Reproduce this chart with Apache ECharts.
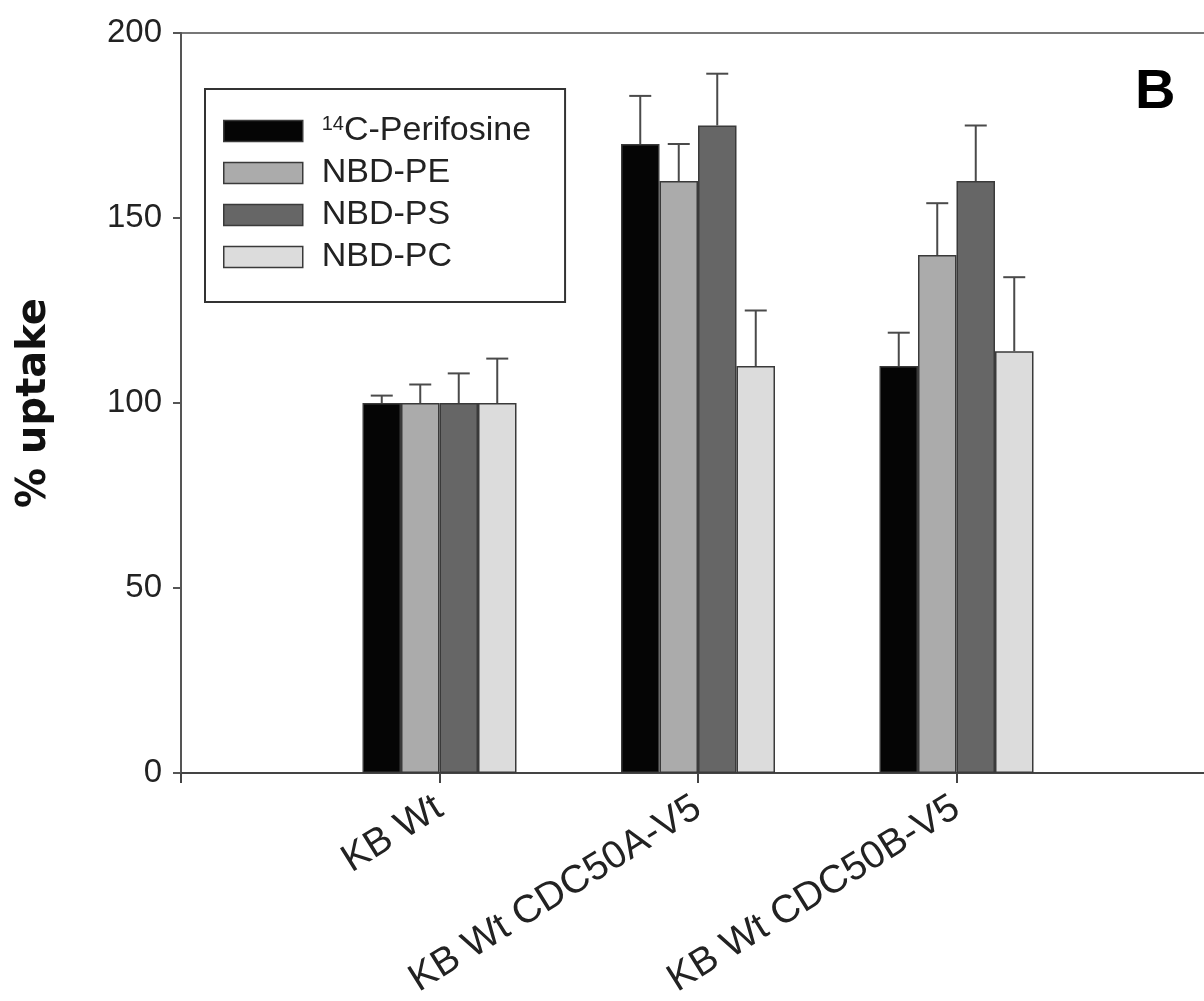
<!DOCTYPE html>
<html><head><meta charset="utf-8">
<script src="https://cdn.jsdelivr.net/npm/echarts@6/dist/echarts.min.js"></script>
<style>html,body{margin:0;padding:0;background:#fff}#c{width:1204px;height:1001px}</style>
</head><body><div id="c"></div>
<script>
const categories = ['', 'KB Wt', 'KB Wt CDC50A-V5', 'KB Wt CDC50B-V5', ''];
const seriesNames = ['14C-Perifosine', 'NBD-PE', 'NBD-PS', 'NBD-PC'];
const perifosine = [null, 100, 170, 110, null];
const nbdPE = [null, 100, 160, 140, null];
const nbdPS = [null, 100, 175, 160, null];
const nbdPC = [null, 100, 110, 114, null];
const errPerifosine = [null, 2, 13, 9, null];
const errPE = [null, 5, 10, 14, null];
const errPS = [null, 8, 14, 15, null];
const errPC = [null, 12, 15, 20, null];
const yTicks = [0, 50, 100, 150, 200];

const values = [perifosine, nbdPE, nbdPS, nbdPC];
const errors = [errPerifosine, errPE, errPS, errPC];
const colors = ['#050505', '#ababab', '#666666', '#dcdcdc'];
const BW = 38.5;

const chart = echarts.init(document.getElementById('c'));
const font = '"Liberation Sans", Arial, sans-serif';

const barSeries = values.map((v, i) => ({
  name: seriesNames[i], type: 'bar', data: v, barWidth: BW, barGap: '0%',
  itemStyle: { color: colors[i], borderColor: '#3a3a3a', borderWidth: 1.5 },
  z: 2
}));

const errSeries = values.map((v, i) => ({
  type: 'custom', z: 3, silent: true,
  data: v.map((val, k) => val == null ? null : [k, val, val + errors[i][k]]).filter(d => d),
  renderItem: function (params, api) {
    const base = api.coord([api.value(0), api.value(1)]);
    const top = api.coord([api.value(0), api.value(2)]);
    const x = base[0] + (i - 1.5) * BW;
    const style = { stroke: '#4a4a4a', lineWidth: 2 };
    return { type: 'group', children: [
      { type: 'line', shape: { x1: x, y1: base[1], x2: x, y2: top[1] }, style },
      { type: 'line', shape: { x1: x - 11, y1: top[1], x2: x + 11, y2: top[1] }, style }
    ]};
  }
}));

chart.setOption({
  backgroundColor: '#fff',
  animation: false,
  title: { text: 'B', left: 1130, top: 60, textStyle: { fontFamily: font, fontSize: 56, fontWeight: 'bold', color: '#000' } },
  legend: {
    data: seriesNames, orient: 'vertical', left: 205, top: 89,
    itemWidth: 79, itemHeight: 21, itemGap: 8,
    padding: [25, 34, 28, 18],
    borderColor: '#333', borderWidth: 2, backgroundColor: '#fff',
    icon: 'rect',
    itemStyle: { borderColor: '#3a3a3a', borderWidth: 1.5 },
    formatter: function (n) { return n === '14C-Perifosine' ? '{sup|14}{t|C-Perifosine}' : '{t|' + n + '}'; },
    textStyle: {
      fontFamily: font, color: '#222', fontSize: 34,
      rich: {
        t: { fontSize: 34, fontFamily: font, color: '#222' },
        sup: { fontSize: 20, fontFamily: font, color: '#222', verticalAlign: 'top', padding: [0, 0, 12, 0] }
      },
      padding: [0, 0, 0, 14]
    }
  },
  grid: { left: 181, top: 33, width: 1034, height: 740, show: true, borderColor: '#777', borderWidth: 2, outerBoundsMode: 'none', containLabel: false },
  xAxis: {
    type: 'category', data: categories, boundaryGap: false,
    axisLine: { lineStyle: { color: '#444', width: 2 } },
    axisTick: { show: true, length: 10, lineStyle: { color: '#444', width: 2 } },
    axisLabel: { rotate: 32, margin: 32, fontFamily: font, fontSize: 39, color: '#222', interval: 0 },
    splitLine: { show: false }
  },
  yAxis: {
    type: 'value', min: 0, max: 200, interval: 50,
    name: '% uptake', nameLocation: 'middle', nameGap: 126, nameRotate: 90,
    nameTextStyle: { fontFamily: '"DejaVu Sans", sans-serif', fontSize: 40, fontWeight: 'bold', color: '#111' },
    axisLine: { show: true, lineStyle: { color: '#555', width: 2 } },
    axisTick: { show: true, inside: false, length: 8, lineStyle: { color: '#555', width: 2 } },
    axisLabel: { margin: 19, fontFamily: font, fontSize: 33, color: '#222',
      formatter: v => yTicks.includes(v) ? String(v) : '' },
    splitLine: { show: false }
  },
  series: barSeries.concat(errSeries)
});
</script></body></html>
